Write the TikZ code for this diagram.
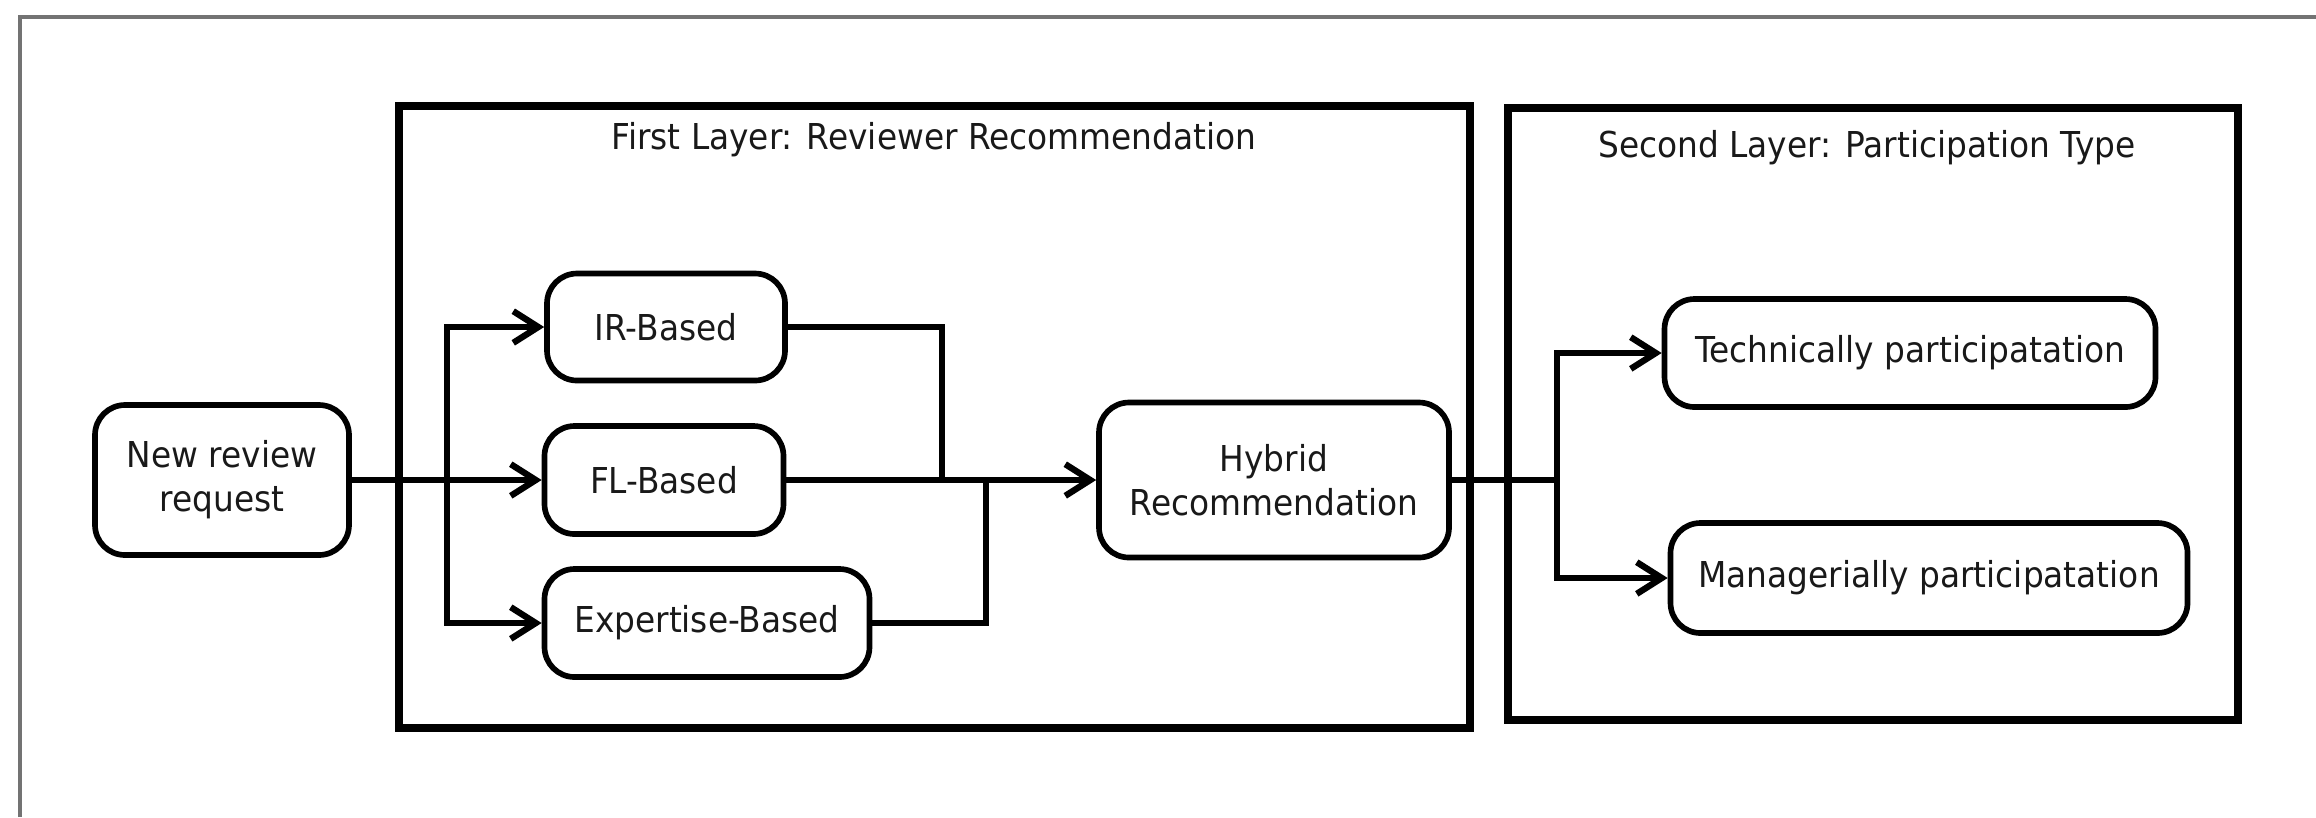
\documentclass[tikz,border=0pt]{standalone}
\usepackage{fontspec}
\setmainfont{DejaVu Sans}[FakeStretch=0.92]
\usetikzlibrary{arrows.meta}
\definecolor{framegray}{rgb}{0.45,0.45,0.45}
\definecolor{inkblack}{rgb}{0.1,0.1,0.1}

\begin{document}
\begin{tikzpicture}[x=0.3pt,y=0.3pt,yscale=-1,
	every node/.style={font=\fontsize{10.7}{13.2}\selectfont,text=inkblack,align=center},
	stage/.style={draw,line width=1.7pt,rounded corners=9pt,inner sep=0pt},
	layer/.style={draw,line width=2.2pt},
	link/.style={line width=1.9pt},
	flow/.style={link,-{Straight Barb[length=7.5pt,width=9.5pt]}}]
			\useasboundingbox (0,0) rectangle (2316,817);
			\draw[framegray,line width=1.1pt] (20,817) -- (20,17) -- (2316,17);

			\draw[layer] (399,106) rectangle (1470,728);
			\draw[layer] (1508,108) rectangle (2238,720);
			\node (title1) at (934,140) {First Layer: Reviewer Recommendation};
			\node (title2) at (1867,148) {Second Layer: Participation Type};

			\node[stage,minimum width=76.2pt,minimum height=45pt] (req) at (222,480) {New review\\request};
			\node[stage,minimum width=71.4pt,minimum height=32.1pt] (ir) at (666,327) {IR-Based};
			\node[stage,minimum width=71.7pt,minimum height=32.4pt] (fl) at (664,480) {FL-Based};
			\node[stage,minimum width=97.5pt,minimum height=32.4pt] (exp) at (707,623) {Expertise-Based};
			\node[stage,minimum width=105pt,minimum height=46.5pt] (hyb) at (1274,480) {Hybrid\\Recommendation};
			\node[stage,minimum width=147.3pt,minimum height=32.4pt] (tech) at (1910,353) {Technically participatation};
			\node[stage,minimum width=155.1pt,minimum height=33pt] (man) at (1929,578) {Managerially participatation};

			\coordinate (fork) at (447,480);
			\coordinate (irjoin) at (942,480);
			\coordinate (expjoin) at (986,480);
			\coordinate (split) at (1557,480);

			\draw[flow] (req) -- (fl);
			\draw[flow] (fork) |- (ir);
			\draw[flow] (fork) |- (exp);
			\draw[link] (ir.east) -| (irjoin);
			\draw[link] (exp.east) -| (expjoin);
			\draw[flow] (fl) -- (hyb);
			\draw[link] (hyb.east) -- (split);
			\draw[flow] (split) |- (tech);
			\draw[flow] (split) |- (man);
\end{tikzpicture}
\end{document}
